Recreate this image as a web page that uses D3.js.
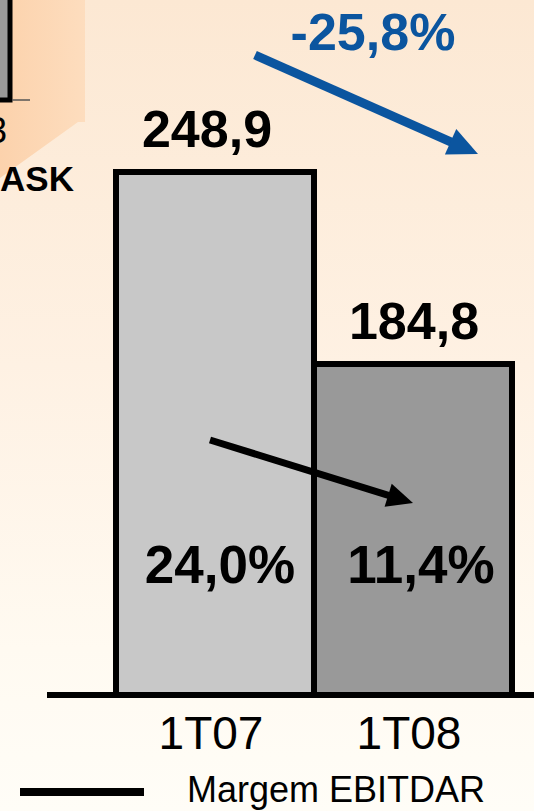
<!DOCTYPE html>
<html>
<head>
<meta charset="utf-8">
<script src="https://cdn.jsdelivr.net/npm/d3@7/dist/d3.min.js"></script>
<style>
  html, body { margin: 0; padding: 0; background: #FFFDF6; }
  svg { display: block; font-family: "Liberation Sans", Arial, sans-serif; }
</style>
</head>
<body>
<svg id="chart" width="534" height="811"></svg>
<script>
// ---- data ----
const categories = ["1T07", "1T08"];
const ebitdar = [248.9, 184.8];
const valueLabels = ["248,9", "184,8"];
const margins = [24.0, 11.4];
const marginLabels = ["24,0%", "11,4%"];
const changeLabel = "-25,8%";
const legendLabels = ["Margem EBITDAR"];
const sideLabels = ["3", "ASK"];

const W = 534, H = 811;
const svg = d3.select("#chart");
const defs = svg.append("defs");

// background gradient
const bg = defs.append("linearGradient").attr("id", "bg").attr("x1", 0).attr("y1", 0).attr("x2", 0).attr("y2", 1);
bg.append("stop").attr("offset", "0%").attr("stop-color", "#FCE8D3");
bg.append("stop").attr("offset", "45%").attr("stop-color", "#FEF1E3");
bg.append("stop").attr("offset", "80%").attr("stop-color", "#FFFAF1");
bg.append("stop").attr("offset", "100%").attr("stop-color", "#FFFDF7");
svg.append("rect").attr("width", W).attr("height", H).attr("fill", "url(#bg)");

// top-left peach panel (part of neighbouring chart)
const pg = defs.append("linearGradient").attr("id", "panel").attr("x1", 0).attr("y1", 0).attr("x2", 1).attr("y2", 0);
pg.append("stop").attr("offset", "0%").attr("stop-color", "#FCD2AC");
pg.append("stop").attr("offset", "100%").attr("stop-color", "#FDDDBE");
svg.append("path")
  .attr("d", "M0,0 L85,0 L85,122 L78,122 L0,178 Z")
  .attr("fill", "url(#panel)");
// partial neighbouring bar & axis
svg.append("rect").attr("x", -20).attr("y", -10).attr("width", 30).attr("height", 110)
  .attr("fill", "#999999").attr("stroke", "#000").attr("stroke-width", 5);
svg.append("line").attr("x1", 12).attr("x2", 30).attr("y1", 100).attr("y2", 100)
  .attr("stroke", "#555").attr("stroke-width", 1.5);
svg.append("text").attr("x", 7).attr("y", 143).attr("text-anchor", "end")
  .attr("font-size", 36).attr("fill", "#000").text(sideLabels[0]);
svg.append("text").attr("x", 74).attr("y", 191).attr("text-anchor", "end")
  .attr("font-size", 35).attr("font-weight", "bold").attr("fill", "#000").text(sideLabels[1]);

// ---- scales ----
const baseY = 695;
const x = d3.scaleBand().domain(categories).range([116, 512]).padding(0);
const y = d3.scaleLinear().domain([74.3, 248.9]).range([baseY, 172]);
const yM = d3.scaleLinear().domain([0, 24]).range([560, 440]);
const bw = x.bandwidth();
const cx = c => x(c) + bw / 2;
const fills = ["#C8C8C8", "#999999"];

// bars
svg.append("g").selectAll("rect").data(categories).join("rect")
  .attr("x", d => x(d))
  .attr("y", (d, i) => y(ebitdar[i]))
  .attr("width", bw)
  .attr("height", (d, i) => baseY - y(ebitdar[i]))
  .attr("fill", (d, i) => fills[i])
  .attr("stroke", "#000")
  .attr("stroke-width", 6);

// baseline
svg.append("line").attr("x1", 47).attr("x2", W).attr("y1", baseY).attr("y2", baseY)
  .attr("stroke", "#000").attr("stroke-width", 6);

// x axis labels
const ax = svg.append("g").attr("transform", `translate(0,${baseY})`)
  .call(d3.axisBottom(x).tickSize(0).tickPadding(21));
ax.select(".domain").remove();
ax.selectAll("text")
  .attr("font-size", 46)
  .attr("font-family", "'Liberation Sans', Arial, sans-serif")
  .attr("fill", "#000")
  .attr("dx", -4);

// value labels
svg.append("g").selectAll("text").data(categories).join("text")
  .attr("x", (d, i) => cx(d) + (i === 0 ? -8 : 1))
  .attr("y", (d, i) => y(ebitdar[i]) - 25)
  .attr("text-anchor", "middle")
  .attr("font-size", 52)
  .attr("font-weight", "bold")
  .attr("fill", "#000")
  .text((d, i) => valueLabels[i]);

// margin labels
svg.append("g").selectAll("text").data(categories).join("text")
  .attr("x", (d, i) => cx(d) + (i === 0 ? 5 : 8))
  .attr("y", 583)
  .attr("text-anchor", "middle")
  .attr("font-size", 53)
  .attr("font-weight", "bold")
  .attr("fill", "#000")
  .text((d, i) => marginLabels[i]);

// arrow helper
function arrow(x1, y1, x2, y2, color, sw, headLen, headW) {
  const dx = x2 - x1, dy = y2 - y1, L = Math.hypot(dx, dy);
  const ux = dx / L, uy = dy / L, px = -uy, py = ux;
  const bx = x2 - ux * headLen, by = y2 - uy * headLen;
  svg.append("line").attr("x1", x1).attr("y1", y1).attr("x2", bx + ux * 2).attr("y2", by + uy * 2)
    .attr("stroke", color).attr("stroke-width", sw);
  svg.append("polygon")
    .attr("points", [[x2, y2], [bx + px * headW / 2, by + py * headW / 2], [bx - px * headW / 2, by - py * headW / 2]].map(p => p.join(",")).join(" "))
    .attr("fill", color);
}

// margin (EBITDAR) trend arrow
arrow(cx(categories[0]) - 5, yM(margins[0]), cx(categories[1]), yM(margins[1]), "#000", 7, 26, 24);

// change arrow (blue) and label
const blue = "#0B559F";
arrow(cx(categories[0]) + 40, y(ebitdar[0]) - 117, cx(categories[1]) + 65, y(ebitdar[0]) - 18, blue, 9, 30, 28);
svg.append("text").attr("x", 373).attr("y", 50).attr("text-anchor", "middle")
  .attr("font-size", 52).attr("font-weight", "bold").attr("fill", blue).text(changeLabel);

// legend
svg.append("line").attr("x1", 20).attr("x2", 144).attr("y1", 792).attr("y2", 792)
  .attr("stroke", "#000").attr("stroke-width", 8);
svg.append("text").attr("x", 187).attr("y", 802).attr("font-size", 36).attr("fill", "#000").text(legendLabels[0]);
</script>
</body>
</html>
